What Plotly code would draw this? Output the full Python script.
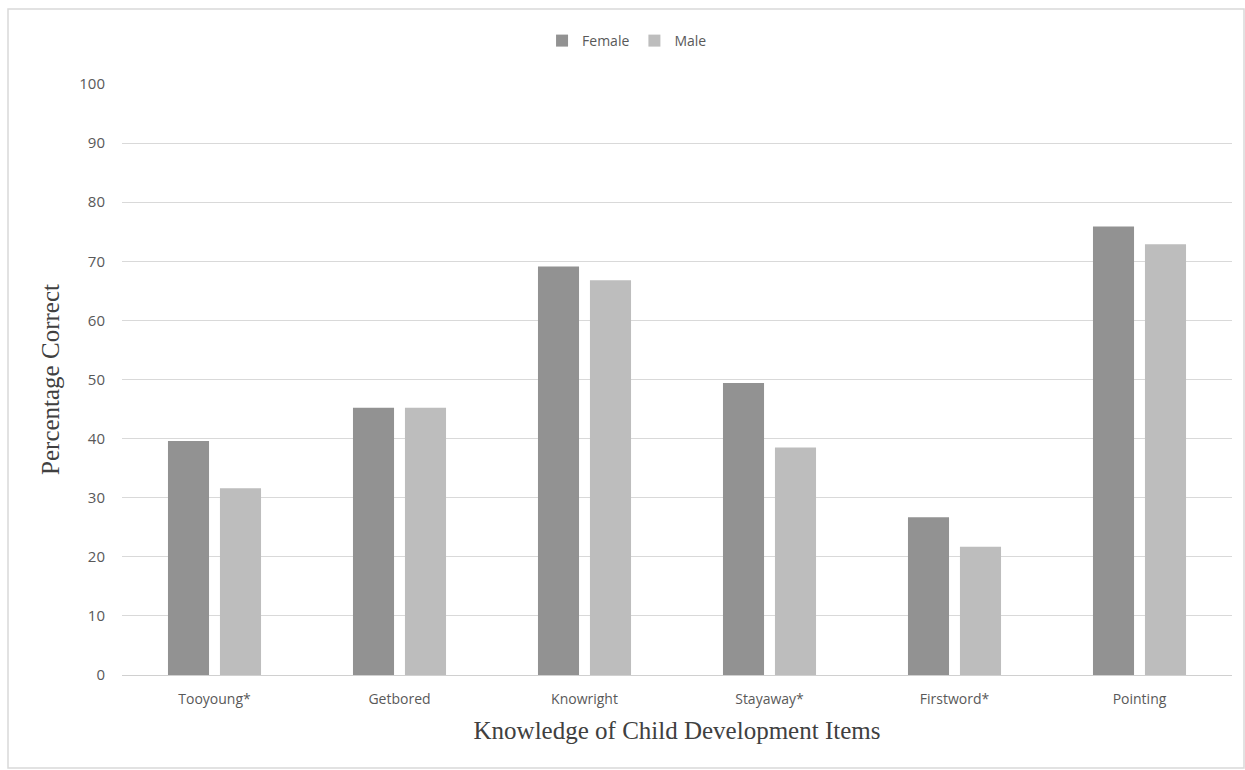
import plotly.graph_objects as go

# Knowledge-of-child-development items and percentage answered correctly
items = ["Tooyoung*", "Getbored", "Knowright", "Stayaway*", "Firstword*", "Pointing"]
female_pct = [39.6, 45.2, 69.1, 49.4, 26.7, 75.9]
male_pct = [31.6, 45.2, 66.8, 38.5, 21.7, 72.9]
y_ticks = [0, 10, 20, 30, 40, 50, 60, 70, 80, 90, 100]

W, H = 1245, 770
ML, MR, MT, MB = 122, 13, 84, 95
plot_w = W - ML - MR
plot_h = H - MT - MB

fig = go.Figure()
fig.add_trace(go.Bar(name="Female", x=items, y=female_pct,
                     marker=dict(color="#929292", line=dict(width=0))))
fig.add_trace(go.Bar(name="Male", x=items, y=male_pct,
                     marker=dict(color="#bdbdbd", line=dict(width=0))))

tick_font = dict(family="Open Sans, Noto Sans, sans-serif", size=14, color="#595959")
serif_font = dict(family="Liberation Serif, Times New Roman, serif", size=25, color="#404040")

fig.update_layout(
    width=W, height=H,
    margin=dict(l=ML, r=MR, t=MT, b=MB),
    paper_bgcolor="white", plot_bgcolor="white",
    barmode="group", bargap=0.438, bargroupgap=0.21,
    showlegend=True,
    legend=dict(orientation="h", x=0.455, xanchor="center", y=1.0 + (MT - 41) / plot_h,
                yanchor="middle", font=dict(family="Open Sans, Noto Sans, sans-serif",
                                            size=14, color="#595959"),
                itemwidth=30, traceorder="normal", bgcolor="rgba(0,0,0,0)"),
    xaxis=dict(showgrid=False, showline=True, linecolor="#d0d0d0", linewidth=1,
               ticks="", tickfont=tick_font, ticklabelstandoff=11,
               title=dict(text="Knowledge of Child Development Items", font=serif_font,
                          standoff=14)),
    yaxis=dict(range=[0, 100], tickvals=y_ticks, showgrid=True, gridcolor="#d9d9d9",
               gridwidth=1, zeroline=False, showline=False, ticks="",
               tickfont=dict(tick_font, size=15), ticklabelstandoff=16,
               title=dict(text="Percentage Correct", font=serif_font, standoff=12)),
)

# thin light frame around the whole chart
def px_to_paper_x(px):
    return (px - ML) / plot_w

def px_to_paper_y(py):
    return (H - MB - py) / plot_h

fig.add_shape(type="rect", xref="paper", yref="paper",
              x0=px_to_paper_x(8), x1=px_to_paper_x(1244),
              y0=px_to_paper_y(768), y1=px_to_paper_y(9),
              line=dict(color="#d9d9d9", width=1.5), fillcolor="rgba(0,0,0,0)",
              layer="below")

fig.write_html("out.html")
